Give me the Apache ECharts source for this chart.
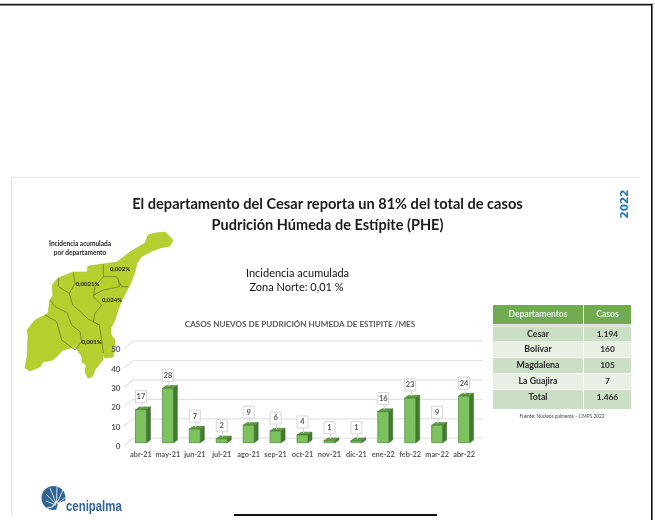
<!DOCTYPE html>
<html>
<head>
<meta charset="utf-8">
<script src="https://cdn.jsdelivr.net/npm/echarts@6/dist/echarts.min.js"></script>
<style>
html,body{margin:0;padding:0;background:#fff}
#c{width:655px;height:520px;filter:blur(0.35px)}
</style>
</head>
<body>
<div id="c"></div>
<script>
var months = ['abr-21','may-21','jun-21','jul-21','ago-21','sep-21','oct-21','nov-21','dic-21','ene-22','feb-22','mar-22','abr-22'];
var cases = [17,28,7,2,9,6,4,1,1,16,23,9,24];
var yTicks = [0,10,20,30,40,50];
var tableHead = ['Departamentos','Casos'];
var tableDepts = ['Cesar','Bolívar','Magdalena','La Guajira','Total'];
var tableCases = ['1.194','160','105','7','1.466'];
var mainTitle = ['El departamento del Cesar reporta un 81% del total de casos','Pudrición Húmeda de Estípite (PHE)'];
var mapLabels = ['0,002%','0,0021%','0,024%','0,001%'];

var FONT = 'Lato, "Open Sans", sans-serif';
var GREY = '#595959';
var chart = echarts.init(document.getElementById('c'));

function z2(p){return p.map(function(q){return [20+q[0]/3,225+q[1]/3];});}
var mapOutline = [[155,233],[165,232],[173,240],[170,246],[160,248],[150,252],[141,257],[137,263],[135,272],[130,285],[126,292],[122,300],[118,310],[115,320],[111,328],[111,335],[115,340],[115,348],[113,357],[105,358],[103,355],[103,360],[100,363],[95,370],[92,377],[88,378],[85,372],[86,365],[82,362],[82,357],[75,347],[63,350],[53,360],[43,362],[40,367],[30,371],[25,368],[27,357],[28,335],[27,330],[35,320],[45,315],[48,313],[50,300],[53,295],[52,285],[58,278],[73,272],[87,272],[88,266],[103,264],[117,262],[130,252],[145,243],[148,235]];
var mapBorders = [
 z2([[160,142],[165,175],[148,205],[158,240],[205,282],[238,300],[245,345],[250,385]]),
 z2([[115,160],[115,185],[148,205]]),
 z2([[90,225],[105,245],[140,262],[155,300],[180,320],[185,350],[165,375]]),
 z2([[75,270],[110,290],[125,345],[165,375]]),
 z2([[250,118],[250,155],[225,185],[220,215],[245,240],[225,265],[220,290],[238,300]]),
 z2([[250,155],[290,155],[305,185],[325,185]]),
 z2([[295,165],[298,185],[250,195],[222,210]])
];

var g = [];
function txt(x,y,s,size,weight,color,extra){
  var o = {type:'text',x:x,y:y,silent:true,style:{text:s,font:weight+' '+size+'px '+FONT,fill:color,align:'center',verticalAlign:'middle'}};
  if(extra){for(var k in extra){o[k]=extra[k];}}
  return o;
}
function rect(x,y,w,h,fill){return {type:'rect',silent:true,shape:{x:x,y:y,width:w,height:h},style:{fill:fill}};}

// page frame
g.push(rect(0,3,655,1,'#cccccc'));
g.push(rect(0,4,652,1.6,'#111111'));
g.push(rect(651,4,1.6,516,'#111111'));
g.push(rect(11,177,629,1,'#e6e6e6'));
g.push(rect(11,177,1,339,'#e2e2e2'));
g.push(rect(234,514,203,2,'#111111'));

// map
g.push({type:'polygon',silent:true,shape:{points:mapOutline},style:{fill:'#b5cf2e',stroke:'#a9c02c',lineWidth:0.6}});
mapBorders.forEach(function(b){g.push({type:'polyline',silent:true,shape:{points:b},style:{stroke:'#6a7d2c',lineWidth:0.8,fill:null}});});
g.push(txt(80,244,'Incidencia acumulada',6.5,'700','#222'));
g.push(txt(80,252.5,'por departamento',6.5,'700','#222'));
[[120,269],[87.5,284.5],[112,300],[91.5,342]].forEach(function(p,i){g.push(txt(p[0],p[1],mapLabels[i],6,'700','#222'));});

// headings
g.push(txt(297.5,273,'Incidencia acumulada',11,'400','#111'));
g.push(txt(296.5,287,'Zona Norte: 0,01 %',11,'400','#111'));
g.push(txt(300,324,'CASOS NUEVOS DE PUDRICIÓN HUMEDA DE ESTIPITE /MES',8.1,'700',GREY));
g.push({type:'text',x:625.5,y:204,rotation:Math.PI/2,silent:true,style:{text:'2022',font:'700 10.5px "DejaVu Sans", sans-serif',fill:'#1f77b4',align:'center',verticalAlign:'middle'}});

// table
var rowTops=[327,342,358,374,390], rowH=[14.5,15,15,15,19];
g.push(rect(493,305,90,19,'#6fac50'));
g.push(rect(584,305,47,19,'#6fac50'));
g.push(txt(538,314.5,tableHead[0],8.5,'700','#e9f3e2'));
g.push(txt(607.5,314.5,tableHead[1],8.5,'700','#e9f3e2'));
g.push(rect(493,324.5,138,2,'#cfe0ca'));
tableDepts.forEach(function(d,i){
  var c = i%2===0 ? '#cbdfc5' : '#e8f0e4';
  g.push(rect(493,rowTops[i],90,rowH[i],c));
  g.push(rect(584,rowTops[i],47,rowH[i],c));
  var cy = rowTops[i]+ (i===4?7.5:rowH[i]/2);
  g.push(txt(538,cy,d,8.8,'700','#2a2a2a'));
  g.push(txt(607.5,cy,tableCases[i],8.4,'700','#2a2a2a'));
});
g.push(txt(562,416,'Fuente: Núcleos palmeros – CMPS 2022',4.8,'400','#444'));

// logo
var LOGO='#2f6496';
g.push({type:'circle',silent:true,shape:{cx:53.5,cy:498,r:12},style:{fill:LOGO}});
g.push({type:'polygon',silent:true,shape:{points:[[56,511],[67,511],[67,500],[58,503]]},style:{fill:'#fff'}});
[[[56,505],[46,501]],[[56,504],[46,494]],[[56,503],[50,488]],[[56.5,503],[57,487]],[[57,503],[63,490]],[[57,504],[66,497]]].forEach(function(r){
  g.push({type:'line',silent:true,shape:{x1:r[0][0],y1:r[0][1],x2:r[1][0],y2:r[1][1]},style:{stroke:'#fff',lineWidth:0.8}});
});
g.push({type:'polyline',silent:true,shape:{points:[[56,503],[52,507],[47,508]]},style:{stroke:'#fff',lineWidth:1.2,fill:null}});
g.push({type:'text',x:66,y:507,scaleX:0.76,silent:true,style:{text:'cenipalma',font:'700 15px "Liberation Sans", sans-serif',fill:LOGO,align:'left',verticalAlign:'middle'}});

function gridLine(params, api){
  var p = api.coord([0, api.value(0)]);
  var cs = params.coordSys;
  var y = p[1]-4.5, x0 = cs.x-3.5, x1 = cs.x+5.5, x2 = cs.x+cs.width+5.5;
  return {type:'polyline',shape:{points:[[x0,y+7.5],[x1,y],[x2,y]]},style:{stroke:'#e3e3e3',lineWidth:1.2,fill:null}};
}
function bar3d(params, api){
  var i = api.value(0), v = api.value(1);
  var top = api.coord([i,v]), bot = api.coord([i,0]);
  var w = 11, dx = 4, dy = 2.8, x = top[0]-w/2, xr = x+w, yt = top[1], yb = bot[1];
  var lx = top[0], ly = yt-13;
  return {type:'group',children:[
    {type:'polygon',shape:{points:[[xr,yt],[xr+dx,yt-dy],[xr+dx,yb-dy],[xr,yb]]},style:{fill:'#427a2e',stroke:'#35642a',lineWidth:0.5}},
    {type:'polygon',shape:{points:[[x,yt],[x+dx,yt-dy],[xr+dx,yt-dy],[xr,yt]]},style:{fill:'#5f9e3e',stroke:'#3f7030',lineWidth:0.5}},
    {type:'rect',shape:{x:x,y:yt,width:w,height:yb-yt},style:{fill:'#7cc35f',stroke:'#3f7030',lineWidth:0.6}},
    {type:'line',shape:{x1:lx+1,y1:ly+6,x2:lx+1,y2:yt-2},style:{stroke:'#d5d5d5',lineWidth:1}},
    {type:'rect',shape:{x:lx-5.5,y:ly-6,width:11,height:12},style:{fill:'#ffffff',stroke:'#d5d5d5',lineWidth:1}},
    {type:'text',x:lx,y:ly,style:{text:String(v),font:'700 7.5px '+FONT,fill:GREY,align:'center',verticalAlign:'middle'}}
  ]};
}

chart.setOption({
  animation:false,
  backgroundColor:'#ffffff',
  title:[
    {text:mainTitle[0],left:'center',top:197,padding:0,textStyle:{fontFamily:FONT,fontSize:14.6,fontWeight:700,color:'#1a1a1a'}},
    {text:mainTitle[1],left:'center',top:217.5,padding:0,textStyle:{fontFamily:FONT,fontSize:14.5,fontWeight:700,color:'#1a1a1a'}}
  ],
  grid:{left:127.5,right:177.5,top:345.6,bottom:77.3},
  xAxis:{type:'category',data:months,axisLine:{show:false},axisTick:{show:false},splitLine:{show:false},
    axisLabel:{interval:0,margin:8,fontFamily:FONT,fontSize:7.3,fontWeight:700,color:GREY}},
  yAxis:{type:'value',min:0,max:50,interval:10,axisLine:{show:false},axisTick:{show:false},splitLine:{show:false},
    axisLabel:{margin:7,verticalAlign:'top',fontFamily:FONT,fontSize:8,fontWeight:700,color:GREY,formatter:function(v){return yTicks.indexOf(v)>=0?String(v):'';}}},
  series:[
    {type:'custom',name:'grid',silent:true,clip:false,z:1,renderItem:gridLine,encode:{y:0},data:yTicks.map(function(t){return [t];})},
    {type:'custom',name:'Casos',silent:true,clip:false,z:2,renderItem:bar3d,encode:{x:0,y:1},data:cases.map(function(v,i){return [i,v];})}
  ],
  graphic:{elements:g}
});
</script>
</body>
</html>
